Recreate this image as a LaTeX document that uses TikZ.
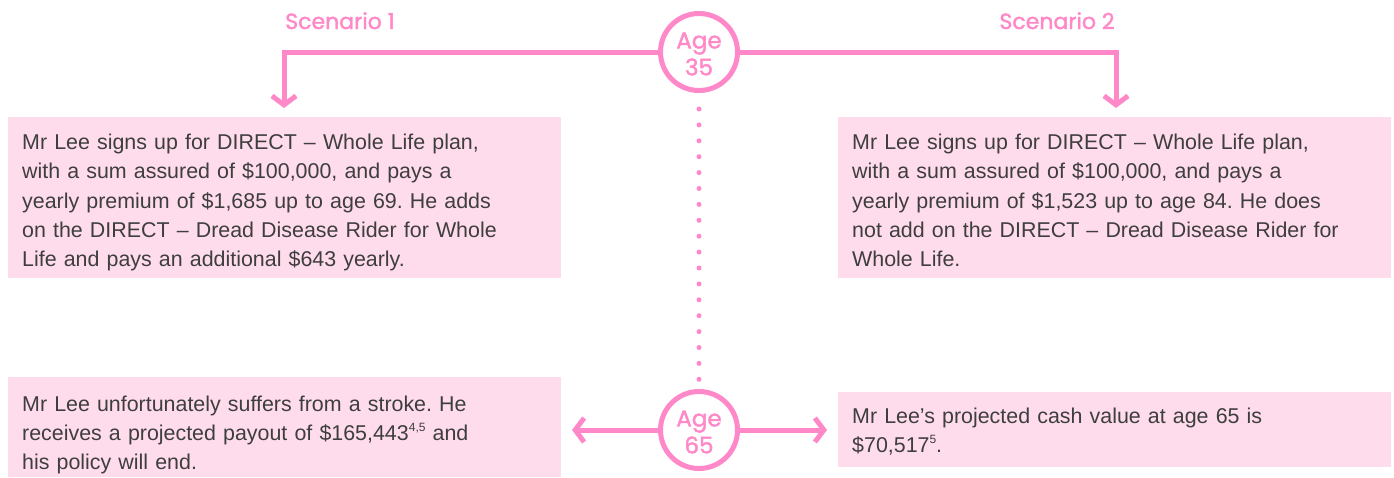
\documentclass[tikz,border=0pt]{standalone}
\usepackage{fontspec}
\setmainfont{Liberation Sans}
\newfontfamily\headfont[FakeBold=1.6]{Poppins}
\usetikzlibrary{arrows.meta}
\definecolor{pinkline}{HTML}{FF88C8}
\definecolor{pinkbox}{HTML}{FFDCEC}
\definecolor{txtgray}{HTML}{3E3E3E}
\frenchspacing
\newcommand{\fnsup}[1]{\raisebox{0.42em}{\fontsize{12}{12}\selectfont #1}}
\tikzset{
  boxbg/.style={fill=pinkbox, draw=none, anchor=north west, inner sep=0pt, minimum width=553pt},
  boxtext/.style={anchor=base west, inner sep=0pt, text=txtgray, align=left,
    font=\fontsize{21.4}{29.3}\selectfont, text width=530pt},
  agecircle/.style={circle, draw=pinkline, line width=5pt, minimum size=77pt, inner sep=0pt,
    fill=white},
  agetext/.style={text=pinkline, align=center, inner sep=0pt, font=\headfont\fontsize{23}{27}\selectfont},
  heading/.style={text=pinkline, anchor=base, inner sep=0pt, font=\headfont\fontsize{22}{24}\selectfont},
  conn/.style={draw=pinkline, line width=5pt},
  chev/.style={-{Straight Barb[length=9pt,width=24pt,line width=5pt]}},
}
\begin{document}
\begin{tikzpicture}[x=1pt,y=-1pt]
\useasboundingbox (0,0) rectangle (1394,477);
% boxes
\node[boxbg, minimum height=161pt] (tlbox) at (8,117) {};
\node[boxbg, minimum height=161pt] (trbox) at (838,117) {};
\node[boxbg, minimum height=100pt] (blbox) at (8,377) {};
\node[boxbg, minimum height=75pt] (brbox) at (838,392) {};
% texts
\node[boxtext] (tl) at (22,149.5) {Mr Lee signs up for DIRECT -- Whole Life plan,\\
with a sum assured of \$100,000, and pays a\\
yearly premium of \$1,685 up to age 69. He adds\\
on the DIRECT -- Dread Disease Rider for Whole\\
Life and pays an additional \$643 yearly.};
\node[boxtext] (tr) at (852,149.5) {Mr Lee signs up for DIRECT -- Whole Life plan,\\
with a sum assured of \$100,000, and pays a\\
yearly premium of \$1,523 up to age 84. He does\\
not add on the DIRECT -- Dread Disease Rider for\\
Whole Life.};
\node[boxtext] (bl) at (22,411) {Mr Lee unfortunately suffers from a stroke. He\\
receives a projected payout of \$165,443\fnsup{4,5} and\\
his policy will end.};
\node[boxtext] (br) at (852,423) {Mr Lee’s projected cash value at age 65 is\\
\$70,517\fnsup{5}.};
% circles
\node[agecircle] (c35) at (699,52) {};
\node[agecircle] (c65) at (699,430) {};
\node[agetext] (t35) at (699,54) {Age\\35};
\node[agetext] (t65) at (699,432) {Age\\65};
% headings
\node[heading] (s1) at (340,29) {Scenario 1};
\node[heading] (s2) at (1057,29) {Scenario 2};
% connectors
\coordinate (k1) at (284,52);
\coordinate (k2) at (1116,52);
\coordinate (a1) at (284,108);
\coordinate (a2) at (1116,108);
\coordinate (a3) at (572,430);
\coordinate (a4) at (827,430);
\draw[conn, chev] (c35.west) -- (k1) -- (a1);
\draw[conn, chev] (c35.east) -- (k2) -- (a2);
\draw[conn, chev] (c65.west) -- (a3);
\draw[conn, chev] (c65.east) -- (a4);
\draw[draw=pinkline, line width=5pt, line cap=round, dash pattern=on 0pt off 15.9pt] ([yshift=-16pt]c35.south) -- (c65.north);
\end{tikzpicture}
\end{document}
